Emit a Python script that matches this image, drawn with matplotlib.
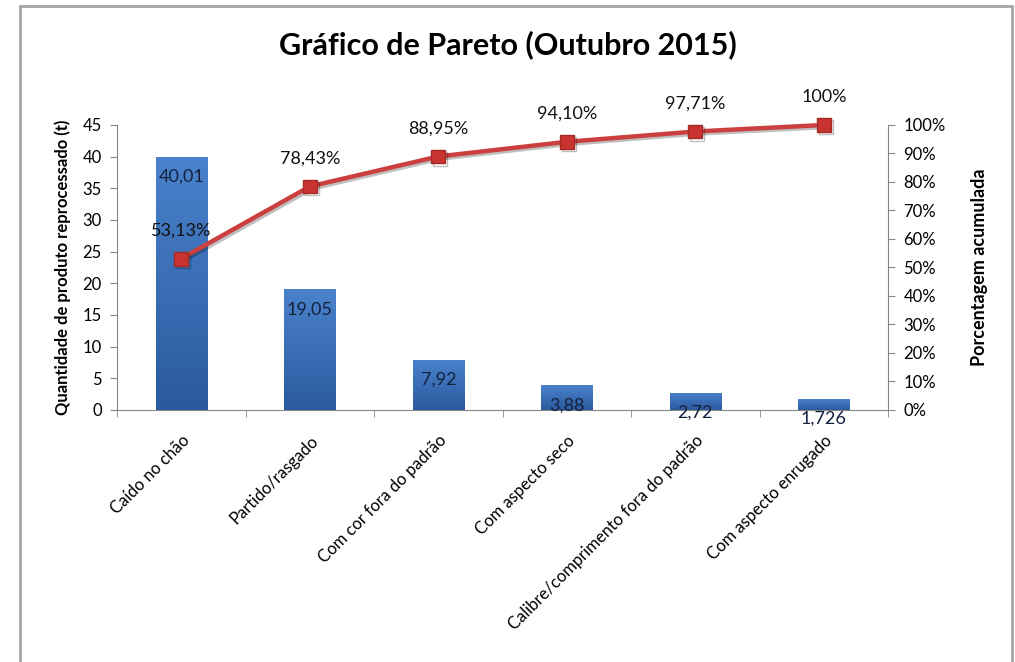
import numpy as np
import matplotlib.pyplot as plt
import matplotlib.patheffects as pe
from matplotlib.colors import LinearSegmentedColormap
from matplotlib.patches import Rectangle
from matplotlib.ticker import FuncFormatter, MultipleLocator, FixedLocator

# data
categorias = ["Caído no chão", "Partido/rasgado", "Com cor fora do padrão",
              "Com aspecto seco", "Calibre/comprimento fora do padrão",
              "Com aspecto enrugado"]
quantidade = [40.01, 19.05, 7.92, 3.88, 2.72, 1.726]
acumulada = [53.13, 78.43, 88.95, 94.10, 97.71, 100]

plt.rcParams['font.family'] = ['Lato', 'DejaVu Sans']

fig = plt.figure(figsize=(10.15, 6.62), dpi=100)
ax = fig.add_axes([0.1153, 0.3807, 0.7596, 0.4305])

x = np.arange(len(categorias))
bars = ax.bar(x, quantidade, width=0.4, color='#3a6fb8', edgecolor='#5b8fd4',
              linewidth=0.6, zorder=2)

# vertical gradient inside each bar
grad_cmap = LinearSegmentedColormap.from_list('g', ['#2a5a9e', '#4a82cc'])
grad = np.linspace(0, 1, 256).reshape(-1, 1)
for b in bars:
    x0, y0 = b.get_x(), b.get_y()
    w, h = b.get_width(), b.get_height()
    im = ax.imshow(grad, cmap=grad_cmap, origin='lower', aspect='auto',
                   extent=[x0, x0 + w, y0, y0 + h], zorder=2.1)
    im.set_clip_path(b)

for xi, q in zip(x, quantidade):
    ax.annotate(str(q).replace('.', ','), (xi, q), xytext=(0, -20),
                textcoords='offset pixels', ha='center', va='center',
                fontsize=13, color='#14213d', zorder=5)

ax.set_xlim(-0.5, len(categorias) - 0.5)
ax.set_ylim(0, 45)
ax.yaxis.set_major_locator(MultipleLocator(5))
ax.set_xticks(x)
ax.set_xticklabels(categorias, rotation=45, ha='right', rotation_mode='anchor',
                   fontsize=12)
ax.tick_params(axis='x', length=0, pad=16)
ax.xaxis.set_minor_locator(FixedLocator(np.arange(-0.5, len(categorias), 1)))
ax.tick_params(axis='x', which='minor', length=5, color='#868686')
ax.tick_params(axis='y', length=5, color='#868686', labelsize=12, pad=6)
for s in ['top', 'right']:
    ax.spines[s].set_visible(False)
for s in ['left', 'bottom']:
    ax.spines[s].set_color('#868686')
ax.set_ylabel("Quantidade de produto reprocessado (t)", fontsize=12,
              fontweight='bold', labelpad=8)

ax2 = ax.twinx()
ax2.set_ylim(0, 100)
ax2.yaxis.set_major_locator(MultipleLocator(10))
ax2.yaxis.set_major_formatter(FuncFormatter(lambda v, p: f"{v:.0f}%"))
ax2.tick_params(axis='y', length=5, color='#868686', labelsize=12, pad=6)
for s in ['top', 'left', 'bottom']:
    ax2.spines[s].set_visible(False)
ax2.spines['right'].set_color('#868686')
ax2.set_ylabel("Porcentagem acumulada", fontsize=13, fontweight='bold',
               labelpad=18)

ax2.plot(x, acumulada, color='#cc3f3f', linewidth=3.2, marker='s',
         markersize=10, markerfacecolor='#c8332f', markeredgecolor='#a52a26',
         zorder=4, clip_on=False,
         path_effects=[pe.SimpleLineShadow(offset=(1.5, -1.5), alpha=0.25),
                       pe.Normal()])
for xi, p in zip(x, acumulada):
    txt = "100%" if p == 100 else f"{p:.2f}".replace('.', ',') + "%"
    ax2.annotate(txt, (xi, p), xytext=(0, 28), textcoords='offset pixels',
                 ha='center', va='center', fontsize=13, color='#111111')

fig.text(0.5, 0.932, "Gráfico de Pareto (Outubro 2015)", ha='center',
         va='center', fontsize=22, fontweight='bold')

# outer chart frame
fig.patches.append(Rectangle((0.0197, -0.05), 0.977, 1.041, transform=fig.transFigure,
                             fill=False, edgecolor='#a6a6a6', linewidth=2))

fig.savefig("out.png", dpi=100)
